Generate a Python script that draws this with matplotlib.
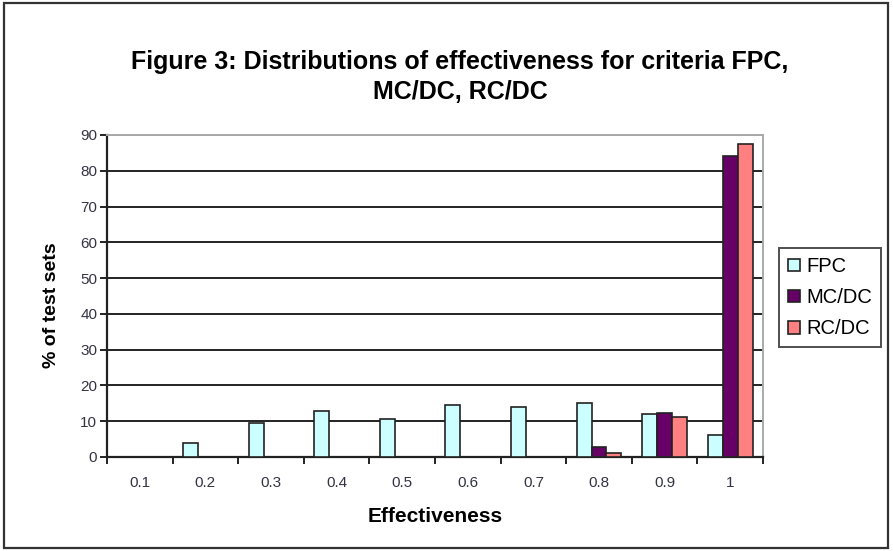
import matplotlib
matplotlib.use('Agg')
import numpy as np
import matplotlib.pyplot as plt
from matplotlib.patches import Rectangle

plt.rcParams['font.family'] = ['Liberation Sans', 'DejaVu Sans']

# effectiveness bins and % of test sets per criterion
categories = ['0.1', '0.2', '0.3', '0.4', '0.5', '0.6', '0.7', '0.8', '0.9', '1']
fpc = [0, 4.0, 9.6, 12.8, 10.7, 14.6, 14.1, 15.1, 11.9, 6.2]
mcdc = [0, 0, 0, 0, 0, 0, 0, 2.8, 12.3, 84.0]
rcdc = [0, 0, 0, 0, 0, 0, 0, 1.2, 11.2, 87.4]
series = [('FPC', fpc, '#CCFFFF'), ('MC/DC', mcdc, '#660066'), ('RC/DC', rcdc, '#FF8080')]

W, H = 893, 551
fig = plt.figure(figsize=(W / 100, H / 100), dpi=100)
ax = fig.add_axes([107 / W, 1 - 457 / H, 656 / W, 322 / H])

# outer frame around the whole chart
fig.patches.append(Rectangle((4 / W, 3 / H), 884 / W, 545 / H,
                             transform=fig.transFigure, fill=False,
                             edgecolor='#333333', linewidth=1.6))

x = np.arange(len(categories))
w = 0.228
for i, (name, vals, col) in enumerate(series):
    ax.bar(x + (i - 1) * w, vals, width=w, color=col, edgecolor='#222222',
           linewidth=1.2, label=name, zorder=3)

ax.set_xlim(-0.5, len(categories) - 0.5)
ax.set_ylim(0, 90)
ax.set_yticks(np.arange(0, 91, 10))
ax.yaxis.grid(True, color='#222222', linewidth=1.4, zorder=0)
ax.set_axisbelow(True)

# ticks on category boundaries, labels at centres
ax.set_xticks(np.arange(-0.5, len(categories), 1.0))
ax.set_xticklabels([])
ax.set_xticks(x, minor=True)
ax.set_xticklabels(categories, minor=True)
ax.tick_params(axis='x', which='minor', length=0, pad=14, labelsize=11, labelcolor='#333344')
ax.tick_params(axis='x', which='major', length=5, width=1.4, color='#222222')
ax.tick_params(axis='y', length=5, width=1.4, color='#222222', pad=2,
               labelsize=11, labelcolor='#333344')

for s in ['top', 'right']:
    ax.spines[s].set_color('#aaaaaa')
    ax.spines[s].set_linewidth(1.4)
for s in ['left', 'bottom']:
    ax.spines[s].set_color('#222222')
    ax.spines[s].set_linewidth(1.6)

ax.set_xlabel('Effectiveness', fontsize=15, fontweight='bold')
ax.xaxis.set_label_coords(435 / W, 1 - 517 / H, transform=fig.transFigure)
ax.xaxis.label.set_va('center')
ax.set_ylabel('% of test sets', fontsize=14, fontweight='bold')
ax.yaxis.set_label_coords(52 / W, 1 - 305 / H, transform=fig.transFigure)
ax.yaxis.label.set_va('center')

fig.text(460 / W, 1 - 77 / H, 'Figure 3: Distributions of effectiveness for criteria FPC,\nMC/DC, RC/DC',
         ha='center', va='center', fontsize=18, fontweight='bold', linespacing=1.3)

leg = fig.legend(loc='upper left', bbox_to_anchor=(779 / W, 1 - 248 / H),
                 frameon=True, fancybox=False, edgecolor='#222222', fontsize=14.5,
                 handlelength=0.6, handleheight=0.6, handletextpad=0.3,
                 borderpad=0.45, labelspacing=0.6, borderaxespad=0)
leg.get_frame().set_linewidth(1.4)

fig.savefig('out.png', dpi=100)
